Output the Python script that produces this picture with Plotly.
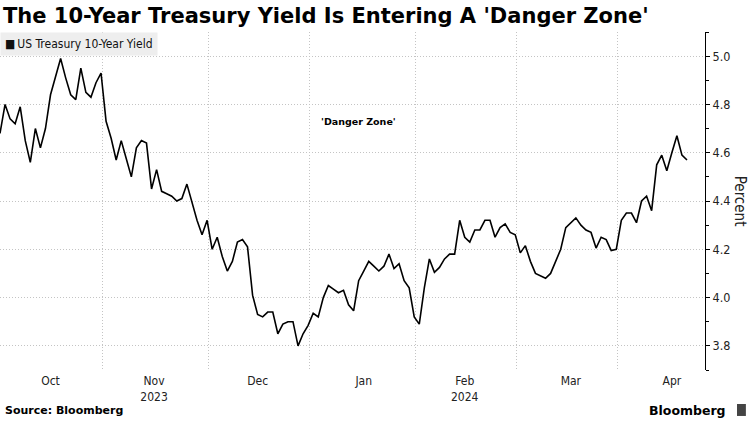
import pandas as pd
import plotly.graph_objects as go

TITLE = "The 10-Year Treasury Yield Is Entering A 'Danger Zone'"
SERIES_NAME = "US Treasury 10-Year Yield"

# bond market closures, the chart skips these days
HOLIDAYS = ["2023-10-09", "2023-11-23", "2023-12-25", "2024-01-01",
            "2024-01-15", "2024-02-19", "2024-03-29"]

# daily close, percent, one line per month
yield_pct = [
    4.68, 4.80, 4.74, 4.72, 4.79, 4.65, 4.56, 4.70, 4.62, 4.70, 4.84, 4.91, 4.99, 4.91,
    4.84, 4.82, 4.95, 4.85, 4.83, 4.89, 4.93,
    4.73, 4.66, 4.57, 4.65, 4.575, 4.50, 4.62, 4.65, 4.64, 4.45, 4.53, 4.44, 4.43, 4.42,
    4.40, 4.41, 4.47, 4.39, 4.32, 4.26, 4.32,
    4.20, 4.25, 4.17, 4.11, 4.15, 4.23, 4.24, 4.21, 4.01, 3.93, 3.92, 3.94, 3.94, 3.85,
    3.89, 3.90, 3.90, 3.80, 3.85, 3.885,
    3.935, 3.92, 4.00, 4.05, 4.035, 4.02, 4.03, 3.97, 3.945, 4.07, 4.11, 4.15, 4.13, 4.11,
    4.13, 4.18, 4.12, 4.14, 4.07, 4.04, 3.92,
    3.89, 4.04, 4.16, 4.105, 4.125, 4.16, 4.18, 4.18, 4.32, 4.25, 4.23, 4.28, 4.28, 4.32,
    4.32, 4.25, 4.29, 4.305, 4.27, 4.26,
    4.185, 4.215, 4.15, 4.10, 4.09, 4.08, 4.10, 4.15, 4.20, 4.29, 4.31, 4.33, 4.30, 4.28,
    4.27, 4.205, 4.25, 4.24, 4.195, 4.20,
    4.32, 4.35, 4.35, 4.31, 4.40, 4.42, 4.36, 4.55, 4.59, 4.525, 4.60, 4.67, 4.59, 4.57,
]

# month labels sit in the middle of each month's trading days
month_ticks = ["2023-10-17", "2023-11-14 12:00", "2023-12-14", "2024-01-17",
               "2024-02-14", "2024-03-15", "2024-04-15"]
month_labels = ["Oct", "Nov<br>2023", "Dec", "Jan", "Feb<br>2024", "Mar", "Apr"]

dates = pd.bdate_range("2023-10-02", "2024-04-18")
dates = dates[~dates.isin(pd.to_datetime(HOLIDAYS))]
assert len(dates) == len(yield_pct), (len(dates), len(yield_pct))

# vertical grid just after the last trading day of each month
s = pd.Series(dates)
month_grid = (s.groupby(s.dt.to_period("M")).max().iloc[:-1]
              + pd.Timedelta(hours=7))

FONT = "DejaVu Sans Condensed, DejaVu Sans, sans-serif"
BOLD = "DejaVu Sans, sans-serif"
GRID = "#c4c4c4"
DOTS = "1px,2px"

fig = go.Figure()
fig.add_trace(go.Scatter(
    x=dates, y=yield_pct,
    mode="lines",
    line=dict(color="black", width=1.6),
    name=SERIES_NAME,
    showlegend=False,
))

fig.update_xaxes(
    type="date",
    range=[dates[0], "2024-04-23 13:30"],
    rangebreaks=[dict(bounds=["sat", "mon"]), dict(values=HOLIDAYS)],
    tickmode="array", tickvals=month_ticks, ticktext=month_labels,
    ticks="", showgrid=False, showline=False, zeroline=False,
    ticklabelstandoff=2,
    tickfont=dict(family=FONT, size=12, color="#222"),
    minor=dict(tickmode="array", tickvals=list(month_grid), ticks="",
               showgrid=True, gridcolor=GRID, griddash=DOTS, gridwidth=1),
)

fig.update_yaxes(
    side="right",
    range=[3.7, 5.1],
    tick0=3.8, dtick=0.2, tickformat=".1f",
    ticks="outside", ticklen=4, tickcolor="black",
    showline=True, linecolor="black", linewidth=1,
    showgrid=True, gridcolor=GRID, griddash=DOTS, gridwidth=1,
    zeroline=False,
    tickfont=dict(family=FONT, size=12.5, color="#222"),
    minor=dict(tick0=3.7, dtick=0.1, ticks="outside", ticklen=3,
               tickcolor="black", showgrid=False),
)

fig.update_layout(
    width=750, height=422,
    margin=dict(l=0, r=45, t=32, b=52, pad=0),
    paper_bgcolor="white", plot_bgcolor="white",
    title=dict(text=TITLE, x=0.004, xref="container", xanchor="left",
               y=0.962, yref="container", yanchor="middle",
               font=dict(family=BOLD, size=21, color="black", weight="bold")),
)

# legend chip top-left
fig.add_annotation(
    text="\u25a0\u2009" + SERIES_NAME, xref="paper", yref="paper",
    x=0, y=1, xanchor="left", yanchor="top", showarrow=False,
    align="left", bgcolor="#eeeeee", borderpad=4,
    font=dict(family=FONT, size=12, color="#111"),
)
fig.add_annotation(
    text="'Danger Zone'", xref="paper", yref="paper", x=0.508, y=0.757,
    showarrow=False, font=dict(family=BOLD, size=9.5, color="black", weight="bold"),
)
fig.add_annotation(
    text="Percent", xref="paper", yref="paper", x=1.05, y=0.5,
    xanchor="center", yanchor="middle", textangle=90, showarrow=False,
    font=dict(family=FONT, size=15, color="#222"),
)
fig.add_annotation(
    text="Source: Bloomberg", xref="paper", yref="paper", x=0.004, y=-0.121,
    xanchor="left", yanchor="middle", showarrow=False,
    font=dict(family=BOLD, size=11, color="black", weight="bold"),
)
fig.add_annotation(
    text="Bloomberg", xref="paper", yref="paper", x=1.0326, y=-0.121,
    xanchor="right", yanchor="middle", showarrow=False,
    font=dict(family=BOLD, size=12.5, color="black", weight="bold"),
)
fig.add_shape(type="rect", xref="paper", yref="paper",
              x0=1.0454, x1=1.058, y0=-0.136, y1=-0.1006,
              fillcolor="#444", line=dict(width=0))

# the page body has a default 8px margin that would push the figure off-frame
fig.write_html("out.html", config={"displayModeBar": False},
               post_script="document.body.style.margin='0px';")
